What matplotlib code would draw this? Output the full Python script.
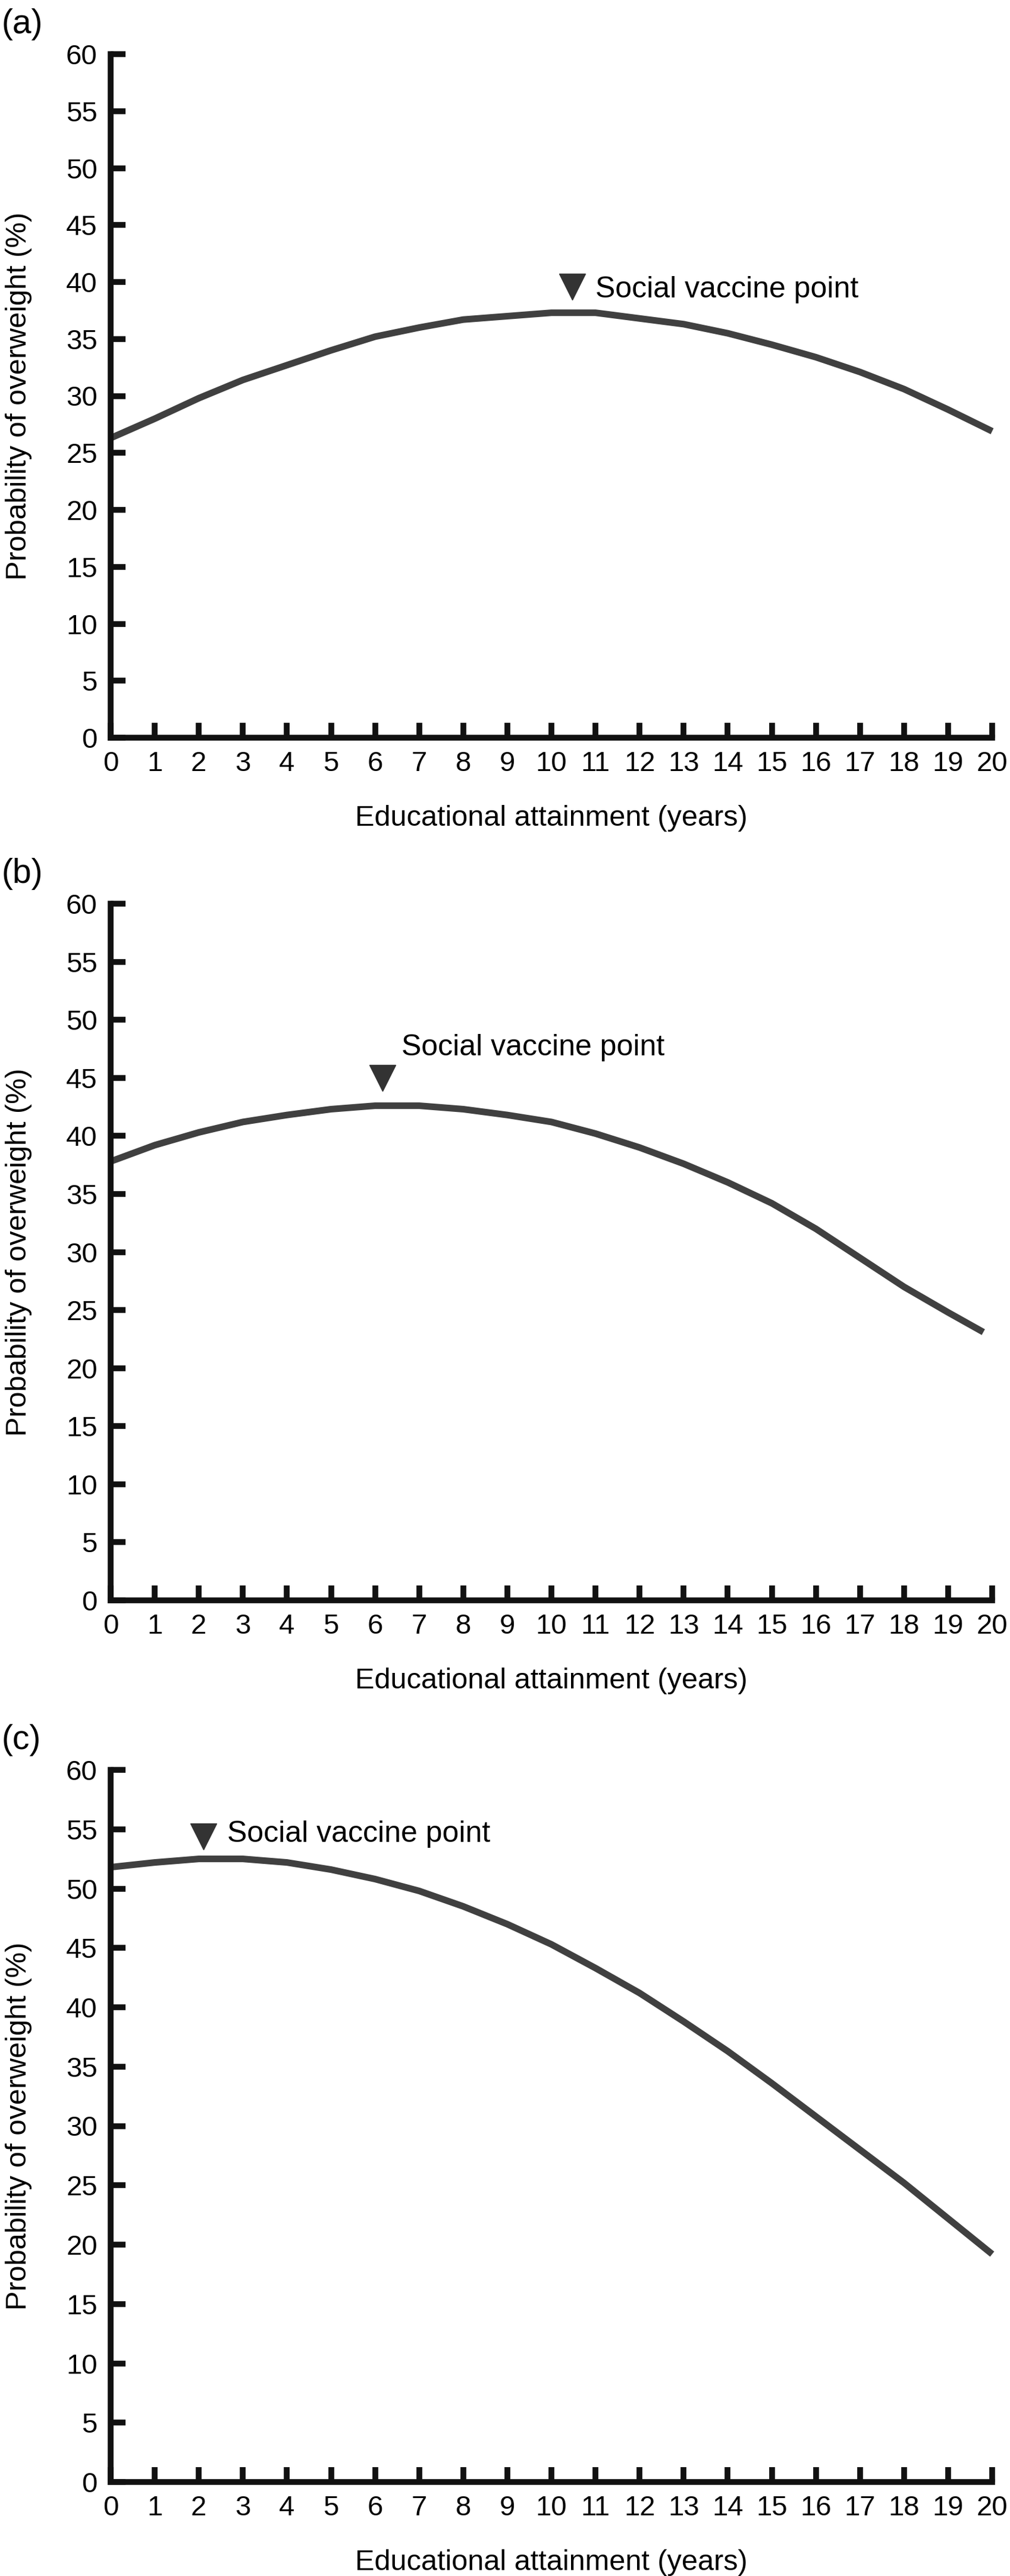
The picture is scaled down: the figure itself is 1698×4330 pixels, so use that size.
import matplotlib
matplotlib.use('Agg')
import matplotlib.pyplot as plt

plt.rcParams['font.family'] = ['Liberation Sans', 'DejaVu Sans']

# Educational attainment (years)
yearsA = [0, 1, 2, 3, 4, 5, 6, 7, 8, 9, 10, 11, 12, 13, 14, 15, 16, 17, 18, 19, 20]
probA = [26.3, 28.0, 29.8, 31.4, 32.7, 34.0, 35.2, 36.0, 36.7, 37.0, 37.3,
         37.3, 36.8, 36.3, 35.5, 34.5, 33.4, 32.1, 30.6, 28.8, 26.9]

yearsB = [0, 1, 2, 3, 4, 5, 6, 7, 8, 9, 10, 11, 12, 13, 14, 15, 16, 17, 18, 19, 19.8]
probB = [37.8, 39.2, 40.3, 41.2, 41.8, 42.3, 42.6, 42.6, 42.3, 41.8, 41.2,
         40.2, 39.0, 37.6, 36.0, 34.2, 32.0, 29.5, 27.0, 24.8, 23.1]

yearsC = [0, 1, 2, 3, 4, 5, 6, 7, 8, 9, 10, 11, 12, 13, 14, 15, 16, 17, 18, 19, 20]
probC = [51.8, 52.2, 52.5, 52.5, 52.2, 51.6, 50.8, 49.8, 48.5, 47.0, 45.3,
         43.3, 41.2, 38.8, 36.3, 33.6, 30.8, 28.0, 25.2, 22.2, 19.2]

# social vaccine point marker (x, y) and label anchor (x, y)
vaccinePoints = [(10.47, 39.6), (6.17, 45.0), (2.11, 54.4)]
vaccineLabels = [(11.0, 39.3), (6.6, 47.6), (2.65, 54.6)]

panelNames = ['(a)', '(b)', '(c)']
xTicks = list(range(0, 21))
yTicks = list(range(0, 61, 5))

W, H = 1698, 4330
LEFT, RIGHT = 186, 1668


def makeAxes(fig, top, bottom):
    return fig.add_axes([LEFT / W, 1 - bottom / H, (RIGHT - LEFT) / W, (bottom - top) / H])


def drawPanel(ax, years, prob, point, label, heightPx):
    ax.plot(years, prob, color='#404040', lw=8, solid_capstyle='butt', clip_on=False)
    ax.plot([point[0]], [point[1]], marker='v', markersize=31, color='#333333',
            linestyle='none', clip_on=False)
    ax.text(label[0], label[1], 'Social vaccine point', fontsize=36, va='center', ha='left')
    ax.set_xlim(0, 20)
    ax.set_ylim(0, 60)
    ax.set_xticks(xTicks)
    ax.set_yticks(yTicks)
    for side in ['top', 'right']:
        ax.spines[side].set_visible(False)
    for side in ['left', 'bottom']:
        ax.spines[side].set_linewidth(7)
        ax.spines[side].set_color('#111111')
        ax.spines[side].set_capstyle('projecting')
    ax.tick_params(direction='in', length=18, width=7, color='#111111',
                   labelsize=34, pad=16)
    ax.set_xlabel('Educational attainment (years)', fontsize=35, va='center')
    ax.set_ylabel('Probability of overweight (%)', fontsize=35, va='center')
    ax.xaxis.set_label_coords(0.5, -135 / heightPx)
    ax.yaxis.set_label_coords((32 - LEFT) / (RIGHT - LEFT), 0.5)


def main():
    fig = plt.figure(figsize=(W / 100, H / 100), dpi=100)
    layout = [(91, 1240), (1519, 2690), (2975, 4172)]
    curves = [(yearsA, probA), (yearsB, probB), (yearsC, probC)]
    for i, (top, bottom) in enumerate(layout):
        ax = makeAxes(fig, top, bottom)
        drawPanel(ax, curves[i][0], curves[i][1], vaccinePoints[i], vaccineLabels[i], bottom - top)
        fig.text(2 / W, 1 - (top - 50) / H, panelNames[i], fontsize=41, va='center', ha='left')
    fig.savefig('out.png', dpi=100, facecolor='white')


if __name__ == "__main__":
    main()
